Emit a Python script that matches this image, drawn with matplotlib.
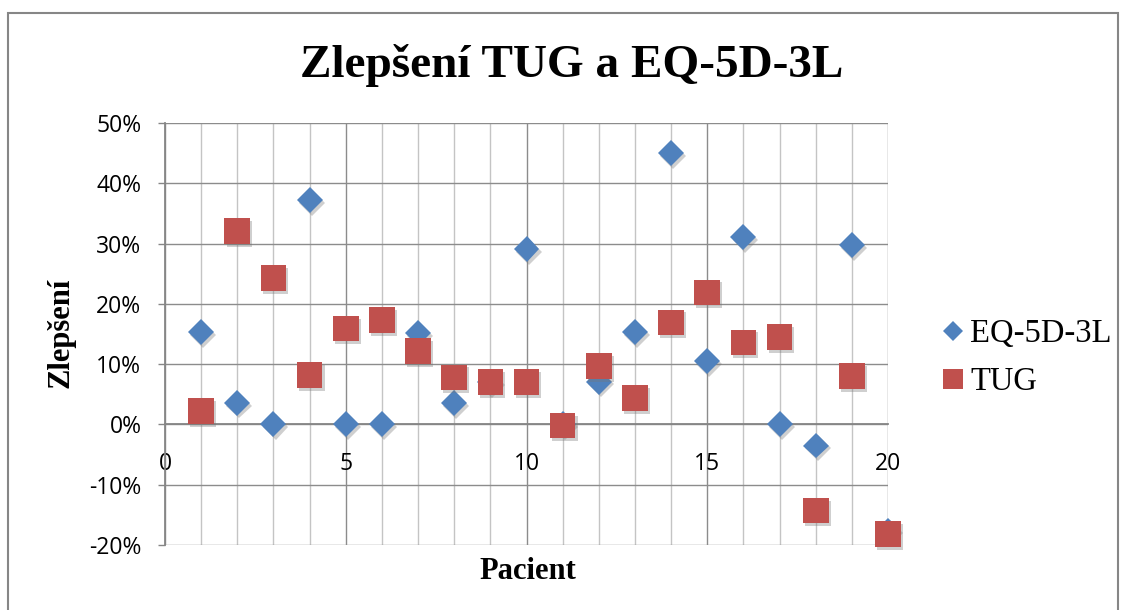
import matplotlib
matplotlib.use('Agg')
import matplotlib.pyplot as plt
from matplotlib.ticker import MultipleLocator, FuncFormatter
import matplotlib.patheffects as pe
from matplotlib.patches import Rectangle
from matplotlib.lines import Line2D

# ---- data (values in %) ----
patients = list(range(1, 21))
eq5d = [15.3, 3.6, 0.0, 37.2, 0.0, 0.0, 15.2, 3.5, 7.0, 29.1,
        0.0, 7.1, 15.3, 45.0, 10.5, 31.1, 0.0, -3.5, 29.7, -17.6]
tug = [2.2, 32.1, 24.3, 8.2, 15.9, 17.3, 12.2, 7.8, 7.0, 7.0,
       -0.2, 9.7, 4.4, 16.9, 21.9, 13.6, 14.5, -14.3, 8.0, -18.2]
series_names = ['EQ-5D-3L', 'TUG']
title_text = 'Zlepšení TUG a EQ-5D-3L'
xlabel_text = 'Pacient'
ylabel_text = 'Zlepšení'

W, H = 1123, 610
BLUE = '#4F81BD'
RED = '#C0504D'
SERIF = ['Liberation Serif', 'DejaVu Serif']
SANS = ['Open Sans', 'DejaVu Sans']

fig = plt.figure(figsize=(W / 100, H / 100), dpi=100)
fig.patch.set_facecolor('white')

# outer chart border
fig.patches.append(Rectangle((8 / W, 1 - 612 / H), (1118 - 8) / W, (612 - 13) / H,
                             transform=fig.transFigure, fill=False,
                             edgecolor='#868686', linewidth=1.5))

left, right, top, bottom = 165, 888, 123, 545
ax = fig.add_axes([left / W, 1 - bottom / H, (right - left) / W, (bottom - top) / H])
ax.set_xlim(0, 20)
ax.set_ylim(-20, 50)

ax.xaxis.set_major_locator(MultipleLocator(5))
ax.xaxis.set_minor_locator(MultipleLocator(1))
ax.yaxis.set_major_locator(MultipleLocator(10))
ax.yaxis.set_major_formatter(FuncFormatter(lambda v, p: f'{int(round(v))}%'))

ax.grid(True, which='minor', axis='x', color='#c4c4c4', linewidth=1.0, zorder=0)
ax.grid(True, which='major', axis='x', color='#8c8c8c', linewidth=1.0, zorder=0)
ax.grid(True, which='major', axis='y', color='#8c8c8c', linewidth=1.0, zorder=0)
ax.set_axisbelow(True)

for s in ['top', 'right']:
    ax.spines[s].set_visible(False)
ax.spines['left'].set_color('#868686')
ax.spines['left'].set_linewidth(1.3)
ax.spines['bottom'].set_position(('data', 0))
ax.spines['bottom'].set_color('#868686')
ax.spines['bottom'].set_linewidth(1.3)

ax.tick_params(axis='y', which='major', length=5, width=1.0, color='#868686',
               pad=12, labelsize=16.5)
ax.tick_params(axis='x', which='both', length=0, pad=20, labelsize=16.5)
for lab in ax.get_xticklabels() + ax.get_yticklabels():
    lab.set_fontfamily(SANS)

shadow = [pe.SimplePatchShadow(offset=(1.5, -2), shadow_rgbFace='#777777', alpha=0.35), pe.Normal()]

ax.plot(patients, eq5d, linestyle='none', marker='D', markersize=13.2,
        color=BLUE, markeredgewidth=0, path_effects=shadow, zorder=3,
        clip_on=False)
ax.plot(patients, tug, linestyle='none', marker='s', markersize=18.5,
        color=RED, markeredgewidth=0, path_effects=shadow, zorder=4,
        clip_on=False)

# texts
fig.text(572 / W, 1 - 77 / H, title_text, ha='center', va='baseline',
         fontsize=34, fontweight='bold', family=SERIF)
fig.text(528 / W, 1 - 579 / H, xlabel_text, ha='center', va='baseline',
         fontsize=22, fontweight='bold', family=SERIF)
fig.text(61 / W, 1 - 333 / H, ylabel_text, ha='center', va='center', rotation=90,
         fontsize=22, fontweight='bold', family=SERIF)

handles = [Line2D([], [], linestyle='none', marker='D', markersize=10.5, color=BLUE, markeredgewidth=0),
           Line2D([], [], linestyle='none', marker='s', markersize=14.5, color=RED, markeredgewidth=0)]
fig.legend(handles, series_names, loc='center left',
           bbox_to_anchor=(943 / W, 1 - 358 / H), frameon=False,
           prop={'family': SERIF, 'size': 23.5}, handlelength=0.62,
           handletextpad=0.22, labelspacing=0.55, borderpad=0, borderaxespad=0)

fig.savefig('out.png', dpi=100, facecolor='white')
